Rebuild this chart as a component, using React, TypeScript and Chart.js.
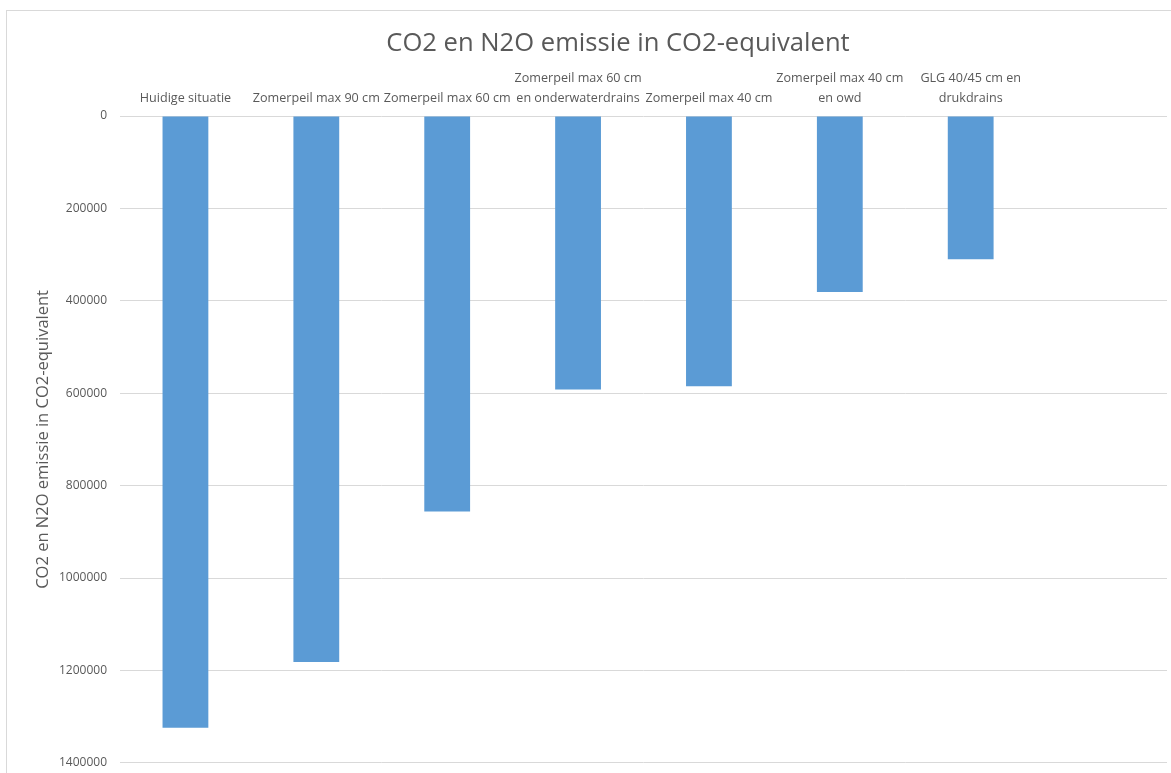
import React, { useEffect, useRef } from "react";
import { Chart, registerables } from "chart.js";

Chart.register(...registerables);

const chartTitle = "CO2 en N2O emissie in CO2-equivalent";
const yAxisTitle = "CO2 en N2O emissie in CO2-equivalent";

const categories: (string | string[])[] = [
  "Huidige situatie",
  "Zomerpeil max 90 cm",
  "Zomerpeil max 60 cm",
  ["Zomerpeil max 60 cm", "en onderwaterdrains"],
  "Zomerpeil max 40 cm",
  ["Zomerpeil max 40 cm", "en owd"],
  ["GLG 40/45 cm en", "drukdrains"],
  "",
];

const emissions: (number | null)[] = [1324000, 1182000, 856000, 592000, 585000, 381000, 310000, null];

const yMin = 0;
const yMax = 1400000;
const yStep = 200000;

const TEXT = "#595959";
const GRID = "#d9d9d9";
const BAR = "#5b9bd5";
const FONT = "'Open Sans', 'DejaVu Sans', sans-serif";

const CANVAS_W = 1171;
const CANVAS_H = 783;

const offsetTitle = {
  id: "offsetTitle",
  afterDraw(chart: any) {
    const ctx = chart.ctx;
    ctx.save();
    ctx.font = `normal 25.6px ${FONT}`;
    ctx.fillStyle = TEXT;
    ctx.textAlign = "center";
    ctx.textBaseline = "middle";
    ctx.fillText(chartTitle, 618, 44);
    ctx.restore();
  },
};

export default function App() {
  const canvasRef = useRef<HTMLCanvasElement | null>(null);

  useEffect(() => {
    if (!canvasRef.current) return;
    const chart = new Chart(canvasRef.current, {
      type: "bar",
      data: {
        labels: categories,
        datasets: [
          {
            label: yAxisTitle,
            data: emissions,
            backgroundColor: BAR,
            borderWidth: 0,
            barPercentage: 0.35,
            categoryPercentage: 1,
          },
        ],
      },
      plugins: [offsetTitle],
      options: {
        animation: false,
        responsive: false,
        maintainAspectRatio: false,
        layout: { padding: { left: 0, right: 4, top: 59.7, bottom: 2 } },
        plugins: {
          legend: { display: false },
          tooltip: { enabled: false },
          title: { display: false },
        },
        scales: {
          x: {
            position: "top",
            grid: { display: false },
            border: { display: false },
            ticks: {
              color: TEXT,
              font: { family: FONT, size: 12.6, lineHeight: 1.55 },
              padding: 0,
              maxRotation: 0,
              autoSkip: false,
            },
            afterFit: (scale: any) => {
              scale.height = 56.3;
            },
          },
          y: {
            reverse: true,
            min: yMin,
            max: yMax,
            grid: { color: GRID, lineWidth: 1, drawTicks: false },
            border: { display: false },
            ticks: {
              stepSize: yStep,
              color: TEXT,
              font: { family: FONT, size: 12 },
              padding: 13,
              callback: (v: any) => String(v),
            },
            title: {
              display: true,
              text: yAxisTitle,
              color: TEXT,
              font: { family: FONT, size: 16.5, weight: "normal" },
              padding: { top: 33, bottom: 0 },
            },
            afterFit: (scale: any) => {
              scale.width = 120;
            },
          },
        },
      },
    });
    return () => chart.destroy();
  }, []);

  return (
    <div
      style={{
        position: "fixed",
        left: 0,
        top: 0,
        width: 1171,
        height: 773,
        overflow: "hidden",
        background: "#fff",
      }}
    >
      <div
        style={{
          position: "absolute",
          left: 6,
          top: 10,
          width: 1200,
          height: 800,
          border: "1px solid #d9d9d9",
        }}
      />
      <canvas
        ref={canvasRef}
        width={CANVAS_W}
        height={CANVAS_H}
        style={{ position: "absolute", left: 0, top: 0, width: CANVAS_W, height: CANVAS_H }}
      />
    </div>
  );
}
